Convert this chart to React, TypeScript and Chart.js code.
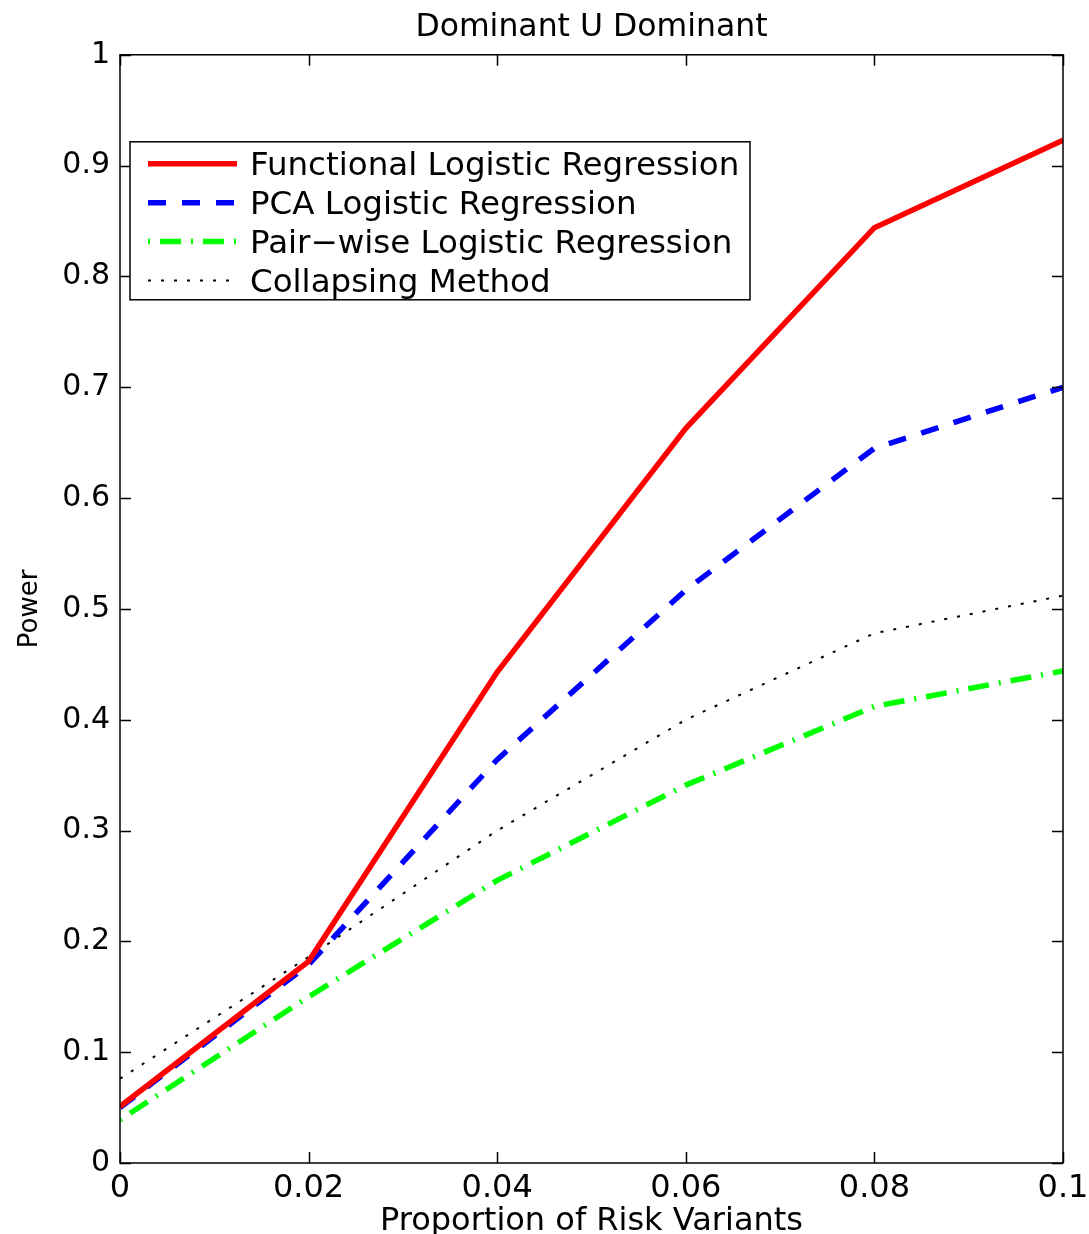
import React, { useEffect, useRef } from 'react';
import { Chart, registerables } from 'chart.js';

Chart.register(...registerables);

const proportions = [0, 0.02, 0.04, 0.06, 0.08, 0.1];
const functionalLR = [0.051, 0.182, 0.443, 0.663, 0.844, 0.923];
const pcaLR = [0.05, 0.179, 0.364, 0.517, 0.645, 0.7];
const pairwiseLR = [0.039, 0.15, 0.255, 0.341, 0.412, 0.444];
const collapsing = [0.076, 0.186, 0.3, 0.4, 0.478, 0.512];

const seriesLabels = [
  'Functional Logistic Regression',
  'PCA Logistic Regression',
  'Pair\u2212wise Logistic Regression',
  'Collapsing Method',
];

const xTickValues = [0, 0.02, 0.04, 0.06, 0.08, 0.1];
const xTickLabels = ['0', '0.02', '0.04', '0.06', '0.08', '0.1'];
const yTickValues = [0, 0.1, 0.2, 0.3, 0.4, 0.5, 0.6, 0.7, 0.8, 0.9, 1];
const yTickLabels = ['0', '0.1', '0.2', '0.3', '0.4', '0.5', '0.6', '0.7', '0.8', '0.9', '1'];

const FONT = '"DejaVu Sans", "Liberation Sans", Arial, sans-serif';

const toPoints = (ys: number[]) => proportions.map((x, i) => ({ x, y: ys[i] }));

const framePlugin = {
  id: 'matlabFrame',
  afterDraw(chart: any) {
    const { ctx, chartArea: a, scales } = chart;
    ctx.save();
    ctx.strokeStyle = '#000';
    ctx.lineWidth = 1.5;
    ctx.strokeRect(a.left, a.top, a.right - a.left, a.bottom - a.top);
    const L = 11;
    ctx.beginPath();
    for (const v of xTickValues) {
      const px = Math.round(scales.x.getPixelForValue(v)) + 0.5;
      ctx.moveTo(px, a.bottom);
      ctx.lineTo(px, a.bottom - L);
      ctx.moveTo(px, a.top);
      ctx.lineTo(px, a.top + L);
    }
    for (const v of yTickValues) {
      const py = Math.round(scales.y.getPixelForValue(v)) + 0.5;
      ctx.moveTo(a.left, py);
      ctx.lineTo(a.left + L, py);
      ctx.moveTo(a.right, py);
      ctx.lineTo(a.right - L, py);
    }
    ctx.stroke();

    // legend
    const lx = a.left + 10;
    const ly = a.top + 87;
    const lw = 620;
    const lh = 158;
    ctx.fillStyle = '#fff';
    ctx.fillRect(lx, ly, lw, lh);
    ctx.lineWidth = 1.5;
    ctx.strokeStyle = '#000';
    ctx.strokeRect(lx, ly, lw, lh);
    const rows = chart.data.datasets;
    rows.forEach((ds: any, i: number) => {
      const cy = ly + 22 + i * 38.9;
      ctx.beginPath();
      ctx.setLineDash(ds.borderDash || []);
      ctx.strokeStyle = ds.borderColor;
      ctx.lineWidth = ds.borderWidth;
      ctx.moveTo(lx + 18, cy);
      ctx.lineTo(lx + 107, cy);
      ctx.stroke();
      ctx.setLineDash([]);
      ctx.fillStyle = '#000';
      ctx.font = '32.5px ' + FONT;
      ctx.textBaseline = 'middle';
      ctx.textAlign = 'left';
      ctx.fillText(ds.label, lx + 120, cy + 3);
    });
    ctx.restore();
  },
};

export default function App() {
  const canvasRef = useRef<HTMLCanvasElement | null>(null);

  useEffect(() => {
    const canvas = canvasRef.current;
    if (!canvas) return;
    const chart = new Chart(canvas, {
      type: 'line',
      data: {
        datasets: [
          {
            label: seriesLabels[0],
            data: toPoints(functionalLR),
            borderColor: '#ff0000',
            borderWidth: 5.5,
            pointRadius: 0,
            tension: 0,
          },
          {
            label: seriesLabels[1],
            data: toPoints(pcaLR),
            borderColor: '#0000ff',
            borderWidth: 5.5,
            borderDash: [18, 16],
            pointRadius: 0,
            tension: 0,
          },
          {
            label: seriesLabels[2],
            data: toPoints(pairwiseLR),
            borderColor: '#00ff00',
            borderWidth: 5.5,
            borderDash: [2, 10, 21, 10],
            pointRadius: 0,
            tension: 0,
          },
          {
            label: seriesLabels[3],
            data: toPoints(collapsing),
            borderColor: '#000000',
            borderWidth: 2,
            borderDash: [3, 10],
            pointRadius: 0,
            tension: 0,
          },
        ],
      },
      options: {
        animation: false,
        responsive: false,
        devicePixelRatio: 1,
        layout: { padding: { left: 0, right: 26, top: 0, bottom: 0 } },
        plugins: {
          legend: { display: false },
          tooltip: { enabled: false },
          title: {
            display: true,
            text: 'Dominant U Dominant',
            color: '#000',
            fullSize: false,
            font: { family: FONT, size: 31.5, weight: 'normal', lineHeight: 1.2 },
            padding: { top: 9, bottom: 8 },
          },
        },
        scales: {
          x: {
            type: 'linear',
            min: 0,
            max: 0.1,
            afterBuildTicks: (scale: any) => {
              scale.ticks = xTickValues.map((v) => ({ value: v }));
            },
            afterFit: (scale: any) => {
              scale.height = 71;
              scale.paddingRight = 0;
              scale.paddingLeft = 0;
            },
            grid: { display: false, drawTicks: false },
            border: { display: false },
            ticks: {
              color: '#000',
              padding: 6,
              maxRotation: 0,
              autoSkip: false,
              font: { family: FONT, size: 32 },
              callback: (v: any) => {
                const i = xTickValues.findIndex((t) => Math.abs(t - Number(v)) < 1e-9);
                return i >= 0 ? xTickLabels[i] : '';
              },
            },
            title: {
              display: true,
              text: 'Proportion of Risk Variants',
              color: '#000',
              font: { family: FONT, size: 32, lineHeight: 0.75 },
              padding: { top: 0, bottom: 0 },
            },
          },
          y: {
            type: 'linear',
            min: 0,
            max: 1,
            afterBuildTicks: (scale: any) => {
              scale.ticks = yTickValues.map((v) => ({ value: v }));
            },
            afterFit: (scale: any) => {
              scale.width = 120;
            },
            grid: { display: false, drawTicks: false },
            border: { display: false },
            ticks: {
              color: '#000',
              padding: 10,
              autoSkip: false,
              font: { family: FONT, size: 30 },
              callback: (v: any) => {
                const i = yTickValues.findIndex((t) => Math.abs(t - Number(v)) < 1e-9);
                return i >= 0 ? yTickLabels[i] : '';
              },
            },
            title: {
              display: true,
              text: 'Power',
              color: '#000',
              font: { family: FONT, size: 26, lineHeight: 1.2 },
              padding: { top: 15, bottom: 0 },
            },
          },
        },
      },
      plugins: [framePlugin],
    });
    return () => chart.destroy();
  }, []);

  return (
    <div style={{ position: 'absolute', left: 0, top: 0, width: 1089, height: 1234, background: '#fff' }}>
      <canvas ref={canvasRef} width={1089} height={1234} style={{ display: 'block' }} />
    </div>
  );
}
